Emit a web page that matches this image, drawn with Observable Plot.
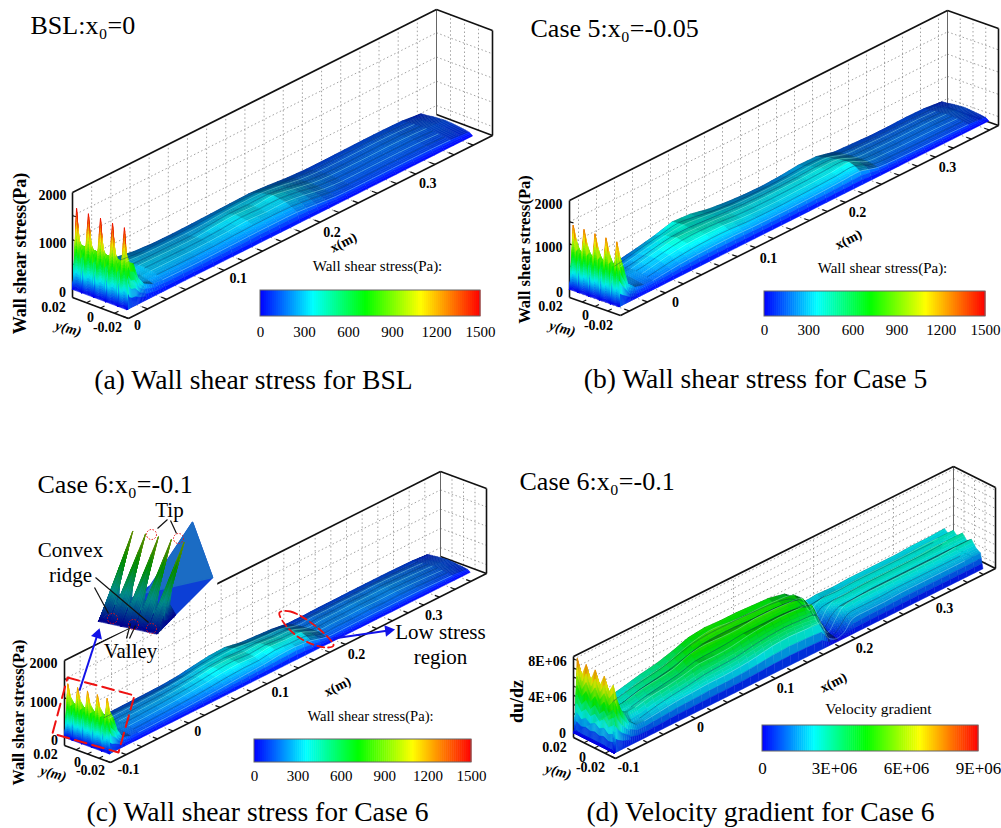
<!DOCTYPE html>
<html><head><meta charset="utf-8">
<script src="https://cdn.jsdelivr.net/npm/d3@7"></script>
<script src="https://cdn.jsdelivr.net/npm/@observablehq/plot@0.6"></script>
<style>html,body{margin:0;padding:0;background:#fff}svg{display:block}</style>
</head><body><div id="fig"></div>
<script>
// spanwise lines (m): edge, five ridges with four valleys between them, edge
const spanY = [0.0195, 0.0171, 0.0129, 0.0086, 0.0043, 0, -0.0043, -0.0086, -0.0129, -0.0171, -0.0195];

// (a) BSL wall shear stress (Pa)
const bslX = [0,.002,.005,.009,.014,.02,.03,.04,.06,.08,.10,.12,.14,.16,.18,.20,.22,.24,.26,.28,.30,.32,.34,.36];
const bslZ = [
[1680,1050,870,800,500,280,290,270,200,170,165,170,180,190,200,170,130,110,110,115,120,120,110,60],
[0,450,820,780,430,290,290,270,230,220,215,220,240,255,260,215,160,130,130,135,140,135,120,70],
[1660,1060,870,790,500,300,280,290,260,250,245,255,285,300,300,250,180,150,145,150,155,150,130,90],
[0,450,820,780,430,290,270,280,270,265,260,290,320,310,320,265,190,155,150,155,160,155,135,100],
[1660,1060,870,790,500,300,280,300,290,280,280,320,345,325,350,280,200,165,160,160,165,160,140,110],
[0,450,820,780,430,280,270,290,285,275,280,300,335,320,325,270,190,155,150,155,155,150,130,100],
[1650,1060,870,780,480,290,270,280,275,270,275,290,315,295,305,250,175,145,145,145,145,140,120,85],
[0,450,800,760,400,250,240,245,240,235,240,255,265,265,255,210,150,125,125,125,125,120,105,70],
[1650,1100,880,825,480,300,190,185,180,175,180,185,190,190,185,150,110,100,100,100,100,95,85,50]];

// (b) Case 5 wall shear stress (Pa)
const case5X = [-.05,-.047,-.043,-.038,-.03,-.02,-.01,0,.02,.04,.06,.08,.10,.12,.14,.16,.18,.2,.22,.24,.26,.28,.3,.32,.34,.36];
const case5Z = [
[1450,1120,800,370,190,130,130,150,220,300,410,380,290,240,210,200,220,260,250,150,130,110,110,120,110,60],
[0,600,770,350,210,170,170,200,280,350,420,370,300,260,240,235,250,280,270,170,140,130,130,130,120,70],
[1440,1110,790,370,220,190,200,240,320,390,430,390,340,300,290,285,295,320,310,185,165,150,150,150,135,90],
[0,600,770,350,230,210,220,250,330,400,410,380,345,320,310,310,320,340,330,195,170,160,160,160,145,100],
[1430,1110,790,370,240,225,240,280,360,430,420,400,365,345,340,345,350,370,360,200,180,170,170,170,155,110],
[0,590,760,340,230,220,240,270,350,410,420,400,360,340,335,340,350,365,370,205,175,165,165,165,150,100],
[1425,1100,790,365,220,205,220,255,330,380,390,385,345,325,320,330,340,355,385,200,170,160,160,155,140,85],
[0,580,730,330,200,180,190,220,280,320,335,330,300,290,290,300,310,325,345,180,150,140,135,130,120,70],
[1420,1100,790,360,200,150,150,170,210,230,240,240,225,220,220,225,235,250,265,150,125,115,110,105,95,50]];

// (c) Case 6 wall shear stress (Pa)
const case6X = [-.1,-.097,-.092,-.087,-.08,-.07,-.06,-.04,-.02,0,.02,.04,.06,.08,.10,.12,.14,.16,.18,.2,.22,.24,.26,.28,.3,.32,.34,.36];
const case6Z = [
[1400,1050,800,450,200,130,120,120,125,130,140,170,230,285,300,220,190,160,100,100,110,110,115,115,115,110,100,60],
[0,550,790,420,210,170,160,160,165,170,185,220,280,320,330,260,240,200,120,125,130,130,135,135,135,125,110,70],
[1395,1040,800,450,230,200,195,200,210,220,240,280,330,355,370,320,290,270,150,170,165,175,170,180,170,155,130,90],
[0,550,790,420,230,210,205,210,225,235,260,300,350,370,350,345,310,290,165,180,180,190,185,195,180,165,140,100],
[1400,1040,800,450,240,220,215,225,240,255,285,330,385,400,370,390,345,325,180,200,200,210,205,210,195,175,150,110],
[0,540,780,420,225,215,210,220,235,255,280,320,370,395,365,395,360,340,190,195,195,205,200,205,190,170,145,100],
[1400,1040,800,440,215,195,190,200,215,235,265,300,345,370,350,405,375,360,195,195,190,200,190,195,180,160,135,85],
[0,530,760,400,190,160,155,165,180,195,215,245,280,300,300,355,335,315,170,170,165,175,165,170,160,140,120,70],
[1400,1040,800,430,190,120,115,120,130,140,155,175,200,220,240,280,290,240,130,125,130,130,130,130,125,110,95,50]];

// (d) Case 6 velocity gradient (1E+06 1/s)
const gradX = [-.1,-.099,-.095,-.09,-.08,-.07,-.06,-.04,-.02,0,.02,.04,.06,.08,.10,.12,.14,.16,.17,.18,.19,.2,.22,.24,.26,.28,.3,.32,.34,.36];
const gradZ = [
[.3,8.2,6.5,4.8,3.0,2.2,2.2,2.6,3.0,3.3,3.8,4.4,4.6,4.5,4.5,4.4,4.3,3.9,3.2,2.0,2.0,2.1,2.0,2.1,2.1,2.1,2.1,2.2,2.2,2.3],
[.2,6.5,5.5,4.2,2.4,1.9,2.0,2.4,2.7,3.0,3.5,4.0,4.2,4.2,4.2,4.1,4.0,3.6,3.0,1.8,1.8,1.9,1.8,1.9,1.9,1.9,1.9,1.9,1.9,1.9],
[.2,8.0,6.3,4.6,3.0,2.5,2.6,3.1,3.4,3.7,4.3,4.8,5.0,4.8,4.7,4.7,4.6,4.3,3.5,1.7,2.2,2.4,2.4,2.5,2.5,2.5,2.5,2.6,2.6,2.6],
[.2,6.5,5.5,4.2,2.6,2.2,2.3,2.8,3.1,3.4,3.9,4.4,4.5,4.5,4.4,4.4,4.3,4.0,3.2,1.4,1.9,2.0,2.0,2.1,2.1,2.1,2.1,2.1,2.2,2.1],
[.2,7.9,6.3,4.6,3.1,2.7,2.9,3.3,3.5,3.8,4.5,4.7,4.6,4.6,4.8,4.8,4.7,4.4,3.0,.8,1.9,2.5,2.6,2.7,2.7,2.7,2.7,2.8,2.8,2.8],
[.2,6.4,5.4,4.1,2.6,2.2,2.4,2.8,3.1,3.4,3.9,4.0,4.1,4.3,4.3,4.3,4.2,3.9,2.4,.5,1.4,2.0,2.1,2.2,2.2,2.2,2.2,2.2,2.2,2.2],
[.2,7.7,6.2,4.5,3.0,2.5,2.6,3.0,3.2,3.5,3.9,3.9,4.0,4.3,4.5,4.6,4.5,4.2,2.0,.3,1.3,2.3,2.5,2.5,2.5,2.5,2.5,2.5,2.6,2.6],
[.1,6.2,5.2,3.9,2.2,1.6,1.7,2.1,2.4,2.6,2.9,3.0,3.1,3.4,3.6,3.7,3.6,3.3,1.1,.2,.8,1.7,1.8,1.8,1.9,1.9,1.9,1.9,1.9,1.9],
[.1,7.2,5.6,4.2,2.4,1.6,1.6,1.8,2.0,2.1,2.2,2.2,2.3,2.5,2.8,2.9,2.8,2.6,.6,.1,.4,1.4,1.5,1.5,1.6,1.6,1.6,1.6,1.6,1.6]];

// inset of (c): magnified leading edge of the tips
const insetX = [0,.004,.01,.02];
const insetZ = [
[1700,800,360,60],[0,110,110,50],[1700,800,360,60],[0,110,110,50],[1700,800,360,60],
[0,110,110,50],[1700,800,360,60],[0,110,110,50],[1700,800,360,60]];

const colorDomain = [0,.24,.48,.73,1];
const colorRange = ["#0000ff","#00ffff","#00ff00","#ffff00","#ff0000"];
const cs = Plot.scale({color:{type:"linear",domain:colorDomain,range:colorRange,interpolate:"rgb"}});

// view of each box on the page (layout only)
const panels = {
 a:{o:[72,297],ex:[364,-183],ey:[56,21],ez:[0,-105],xr:[0,.38],zr:[-185,1980],tmax:1500,inlet:5,
    xl:[0,.1,.2,.3],xoff:[[9,7],[14,8],[12,10],[12,9]],zt:[500,1000,1500],gridX:.02},
 b:{o:[569,297],ex:[378,-190],ey:[51,18],ez:[0,-97],xr:[-.05,.37],zr:[-200,1980],tmax:1500,inlet:4,
    xl:[0,.1,.2,.3],xoff:[[10,10],[13,11],[12,10],[12,10]],zt:[500,1000,1500],gridX:.02},
 c:{o:[64,745],ex:[376,-189],ey:[46,17],ez:[0,-85],xr:[-.1,.38],zr:[-230,1978],tmax:1500,inlet:4,
    xl:[-.1,0,.1,.2,.3],xoff:[[18,7],[9,8],[13,9],[11,10],[10,11]],zt:[500,1000,1500],gridX:.02},
 d:{o:[573,737],ex:[380,-190],ey:[42,21],ez:[0,-81],xr:[-.1,.375],zr:[-.6,8.3],tmax:9,inlet:4,
    xl:[-.1,0,.1,.2,.3],xoff:[[13,9],[5,9],[10,10],[9,10],[9,10]],zt:[1,2,3,4,5,6,7,8],gridX:.1}
};
const inset = {o:[98,620],ex:[55,-55],ey:[60,13],ez:[29.9,-90.1],xr:[0,.06],zr:[0,1700],tmax:2300,inlet:3};

function P(p,x,y,z){
  const a=(x-p.xr[0])/(p.xr[1]-p.xr[0]), b=(.02-y)/.04, c=(z-p.zr[0])/(p.zr[1]-p.zr[0]);
  return [p.o[0]+a*p.ex[0]+b*p.ey[0]+c*p.ez[0], p.o[1]+a*p.ex[1]+b*p.ey[1]+c*p.ez[1]];
}
const lerp=(a,b,s)=>a+(b-a)*s;

function shadeColor(t,k){
  const c=d3.rgb(cs.apply(Math.min(1,Math.max(0,t))));
  return d3.rgb(c.r*k,c.g*k,c.b*k).formatHex();
}

function surface(p,name,xs0,table0,opt={}){
  const base=opt.base??.8, gain=opt.gain??.4, gainX=opt.gainX??1.2, lo=opt.lo??.5, hi=opt.hi??1, flat=opt.flat??.93;
  // the leading edge stands as a wall rising from the floor of the surface
  const xs=[xs0[0]-.0006,...xs0];
  const table=table0.map(r=>[0,...r]);
  const inletCells=p.inlet+1;
  const zero=xs.map(()=>0);
  const Z=[zero,...table,zero];
  const rows=[]; let id=0;
  const pxZ=Math.hypot(p.ez[0],p.ez[1])/(p.zr[1]-p.zr[0]);
  const pxY=Math.hypot(p.ey[0],p.ey[1])/.04;
  const pxX=Math.hypot(p.ex[0],p.ex[1])/(p.xr[1]-p.xr[0]);
  for(let i=xs.length-2;i>=0;i--){
    const nx=i===0?24:(i===1?8:((xs[i+1]-xs[i])>.012?2:4));
    for(let u=nx-1;u>=0;u--){
      for(let j=0;j<spanY.length-1;j++){
        const ny=(i<inletCells)?5:3;
        for(let v=0;v<ny;v++){
          const s0=u/nx,s1=(u+1)/nx,r0=v/ny,r1=(v+1)/ny;
          const zAt=(s,r)=>lerp(lerp(Z[j][i],Z[j][i+1],s),lerp(Z[j+1][i],Z[j+1][i+1],s),r);
          const xAt=s=>lerp(xs[i],xs[i+1],s), yAt=r=>lerp(spanY[j],spanY[j+1],r);
          const c=[[s0,r0],[s1,r0],[s1,r1],[s0,r1]];
          const zs=c.map(q=>zAt(q[0],q[1]));
          const zm=d3.mean(zs);
          // height growing towards +y or +x faces the viewer and is bright, the far side is dark
          const dz=(zs[0]+zs[1]-zs[2]-zs[3])/2*pxZ;
          const dy=Math.abs(spanY[j]-spanY[j+1])/ny*pxY;
          const dzx=(zs[1]+zs[2]-zs[0]-zs[3])/2*pxZ;
          const dx=(xs[i+1]-xs[i])/nx*pxX;
          let k=i<inletCells?flat:Math.max(lo,Math.min(hi,base+gain*dz/dy+gainX*dzx/dx));
          const col=shadeColor(zm/p.tmax,k);
          const key=name+(id++);
          c.forEach((q,n)=>{const pt=P(p,xAt(q[0]),yAt(q[1]),zs[n]);rows.push({id:key,px:pt[0],py:pt[1],col});});
        }
      }
    }
  }
  return rows;
}
function surfaceMark(rows){
  return Plot.line(rows,{x:"px",y:"py",z:"id",curve:"linear-closed",
    fill:{value:"col",scale:null},stroke:{value:"col",scale:null},strokeWidth:.5});
}
// streaks along the ridges (light) and valleys (dark)
function streaks(p,name,xs,table,start){
  const rows=[];
  table.forEach((row,j)=>{
    for(let i=start;i<xs.length-1;i++){
      const pt=P(p,xs[i],spanY[j+1],row[i]);
      rows.push({id:name+j,j,px:pt[0],py:pt[1]});
    }
  });
  return [
   Plot.line(rows.filter(d=>d.j%2===0&&d.j>0),{x:"px",y:"py",z:"id",curve:"catmull-rom",stroke:"#a8fff0",strokeOpacity:.4,strokeWidth:.9}),
   Plot.line(rows.filter(d=>d.j%2===1),{x:"px",y:"py",z:"id",curve:"catmull-rom",stroke:"#04305e",strokeOpacity:.45,strokeWidth:.9})
  ];
}
function seg(p,a,b){const A=P(p,...a),B=P(p,...b);return {x1:A[0],y1:A[1],x2:B[0],y2:B[1]};}

function gridLinks(p){
  const [x0,x1]=p.xr,[z0,z1]=p.zr,out=[];
  for(let x=Math.ceil(x0/p.gridX-1e-6)*p.gridX;x<x1-1e-6;x+=p.gridX){
    out.push(seg(p,[x,.02,z0],[x,.02,z1]));
    out.push(seg(p,[x,.02,z0],[x,-.02,z0]));
  }
  p.zt.forEach(z=>{
    out.push(seg(p,[x0,.02,z],[x1,.02,z]));
    out.push(seg(p,[x1,.02,z],[x1,-.02,z]));
  });
  [.01,0,-.01].forEach(y=>{
    out.push(seg(p,[x1,y,z0],[x1,y,z1]));
  });
  out.push(seg(p,[x0,.02,0],[x1,.02,0]));
  out.push(seg(p,[x1,.02,0],[x1,-.02,0]));
  return out;
}
function boxLinks(p){
  const [x0,x1]=p.xr,[z0,z1]=p.zr;
  return [
    seg(p,[x0,.02,z1],[x1,.02,z1]),
    seg(p,[x1,.02,z1],[x1,-.02,z1]),
    seg(p,[x1,-.02,z1],[x1,-.02,z0]),
    seg(p,[x1,-.02,z0],[x1,.02,z0]),
    seg(p,[x0,.02,z0],[x0,.02,z1]),
    seg(p,[x0,.02,z0],[x0,-.02,z0]),
    seg(p,[x0,-.02,z0],[x1,-.02,z0])
  ];
}
function tickLinks(p){
  const [x0,x1]=p.xr,[z0]=p.zr,out=[];
  const dx=[p.ey[0]*.1,p.ey[1]*.1];
  for(let x=Math.ceil(x0/.02-1e-6)*.02;x<x1;x+=.02){
    const A=P(p,x,-.02,z0);
    out.push({x1:A[0],y1:A[1],x2:A[0]-dx[0],y2:A[1]-dx[1]});
  }
  [.01,0,-.01].forEach(y=>{const A=P(p,x0,y,z0);out.push({x1:A[0],y1:A[1],x2:A[0]+4,y2:A[1]-2});});
  p.zt.forEach(z=>{const A=P(p,x0,.02,z);out.push({x1:A[0],y1:A[1],x2:A[0]+4,y2:A[1]+1});});
  return out;
}
const serif="Liberation Serif";
function T(rows,o){
  return Plot.text(rows,{x:d=>d[1],y:d=>d[2],text:d=>d[0],rotate:d=>d[3]||0,fontFamily:serif,lineAnchor:"middle",fill:"black",...o});
}
const boldTick={fontWeight:"bold",fontSize:14};

const bars=[
 {name:"a",x0:260,x1:480,y0:290,y1:316,labY:332,title:"Wall shear stress(Pa):",tx:377,ty:266,ticks:["0","300","600","900","1200","1500"],fs:15},
 {name:"b",x0:764,x1:985,y0:291,y1:316,labY:330,title:"Wall shear stress(Pa):",tx:882,ty:268,ticks:["0","300","600","900","1200","1500"],fs:15},
 {name:"c",x0:254,x1:471,y0:739,y1:762,labY:776,title:"Wall shear stress(Pa):",tx:370,ty:716,ticks:["0","300","600","900","1200","1500"],fs:15},
 {name:"d",x0:762,x1:978,y0:725,y1:751,labY:768,title:"Velocity gradient",tx:878,ty:709,ticks:["0","3E+06","6E+06","9E+06"],fs:17}
];
const barCells=bars.flatMap(b=>d3.range(110).map(i=>({
  x1:lerp(b.x0,b.x1,i/110),x2:lerp(b.x0,b.x1,(i+1)/110)+.5,y1:b.y0,y2:b.y1,t:(i+.5)/110})));

const marks=[];
const allLinks={grid:[],box:[],tick:[],edge:[]};
for(const k of "abcd"){
  const p=panels[k];
  allLinks.grid.push(...gridLinks(p));
  allLinks.box.push(...boxLinks(p));
  allLinks.tick.push(...tickLinks(p));
  allLinks.edge.push(seg(p,[p.xr[1],.02,p.zr[0]],[p.xr[1],.02,p.zr[1]]));
}
marks.push(Plot.link(allLinks.grid,{x1:"x1",y1:"y1",x2:"x2",y2:"y2",stroke:"#8a8a8a",strokeWidth:.8,strokeDasharray:"1.5,2.5"}));
marks.push(Plot.link(allLinks.edge,{x1:"x1",y1:"y1",x2:"x2",y2:"y2",stroke:"#666",strokeWidth:1}));
marks.push(Plot.link(allLinks.box,{x1:"x1",y1:"y1",x2:"x2",y2:"y2",stroke:"#111",strokeWidth:1.6}));
marks.push(Plot.link(allLinks.tick,{x1:"x1",y1:"y1",x2:"x2",y2:"y2",stroke:"#111",strokeWidth:1.2}));

// white cut-out behind the inset of (c)
const cutout=[[83,490],[216,490],[216,586],[83,648]].map(q=>({id:"cut",px:q[0],py:q[1]}));
marks.push(Plot.line(cutout,{x:"px",y:"py",z:"id",curve:"linear-closed",fill:"white",stroke:"white"}));

marks.push(surfaceMark(surface(panels.a,"a",bslX,bslZ)),...streaks(panels.a,"sa",bslX,bslZ,7));
marks.push(surfaceMark(surface(panels.b,"b",case5X,case5Z)),...streaks(panels.b,"sb",case5X,case5Z,6));
marks.push(surfaceMark(surface(panels.c,"c",case6X,case6Z)),...streaks(panels.c,"sc",case6X,case6Z,6));
marks.push(surfaceMark(surface(panels.d,"d",gradX,gradZ,{flat:.88,base:.7,hi:.85,lo:.45})),...streaks(panels.d,"sd",gradX,gradZ,6));

// inset
const insetBack=[[[100,620],[157,632],[212,577],[192,522],[150,585]],[[146,592],[212,577],[192,522]]];
insetBack.forEach((poly,i)=>{
  marks.push(Plot.line(poly.map(q=>({id:"ib"+i,px:q[0],py:q[1]})),{x:"px",y:"py",z:"id",curve:"linear-closed",fill:i?"#1b6cc4":"#0c3fd6",stroke:i?"#1b6cc4":"#0c3fd6"}));
});
marks.push(surfaceMark(surface(inset,"i",insetX,insetZ,{flat:.55})));

// colour bars
marks.push(Plot.rect(barCells,{x1:"x1",x2:"x2",y1:"y1",y2:"y2",fill:"t"}));
marks.push(Plot.rect(bars,{x1:"x0",x2:"x1",y1:"y0",y2:"y1",stroke:"#666",strokeWidth:1,fill:"none"}));
marks.push(T(bars.map((b,i)=>[b.title,b.tx,b.ty,0,[15,15,14.6,15.5][i]]),{fontSize:d=>d[4]}));
marks.push(T(bars.flatMap(b=>b.ticks.map((s,i)=>[s,lerp(b.x0,b.x1,i/(b.ticks.length-1)),b.labY,0,b.fs])),{fontSize:d=>d[4]}));

// x tick labels
const fmt=v=>String(+v.toFixed(2));
const xLabs=[];
for(const k of "abcd"){const p=panels[k];p.xl.forEach((v,i)=>{const A=P(p,v,-.02,p.zr[0]);xLabs.push([fmt(v),A[0]+p.xoff[i][0],A[1]+p.xoff[i][1]]);});}
marks.push(T(xLabs,boldTick));
// other axis labels
marks.push(T([
 ["2000",52,195],["1000",52,243],["0",62,292],["0.02",53,307],["0",90,317],["-0.02",107,327],
 ["2000",548,204],["1000",548,247],["0",559,292],["0.02",550,306],["0",585,315],["-0.02",598,325],
 ["2000",43,663],["1000",43,702],["0",54,740],["0.02",45,754],["0",77,762],["-0.02",90,770],
 ["8E+06",547,661],["4E+06",547,697],["0",562,733],["0.02",554,747],["0",582,757],["-0.02",590,767]
],boldTick));
marks.push(T([["x(m)",343,242,-27],["x(m)",848,239,-27],["x(m)",337,686,-27],["x(m)",833,682,-27]],boldTick));
marks.push(T([["y(m)",68,328,15],["y(m)",562,328,15],["y(m)",53,773,15],["y(m)",558,771,15]],{...boldTick,fontStyle:"italic"}));
marks.push(T([["Wall shear stress(Pa)",20,253,-90,18],["Wall shear stress(Pa)",524,249,-90,16.6],["Wall shear stress(Pa)",18,712,-90,16.3]],{fontWeight:"bold",fontSize:d=>d[4]}));
marks.push(T([["du/dz",517,701,-90]],{fontWeight:"bold",fontSize:18}));

// panel titles and captions
marks.push(T([["BSL:x₀=0",30,25],["Case 5:x₀=-0.05",530,28],["Case 6:x₀=-0.1",37,484],["Case 6:x₀=-0.1",519,481]],{fontSize:26,textAnchor:"start"}));
marks.push(T([["(a) Wall shear stress for BSL",253,380],["(b) Wall shear stress for Case 5",755,379],["(c) Wall shear stress for Case 6",257,812],["(d) Velocity gradient for Case 6",760,812]],{fontSize:27.6}));

// annotations of (c)
marks.push(T([["Tip",169,510],["Convex",70,550],["ridge",70,575],["Valley",130,651],["Low stress",440,632],["region",440,657]],{fontSize:21}));
marks.push(Plot.link([
 {x1:167,y1:519,x2:157,y2:528},{x1:170,y1:520,x2:176,y2:533},
 {x1:95,y1:577,x2:148,y2:622},{x1:94,y1:587,x2:108,y2:613},
 {x1:126,y1:638,x2:130,y2:623},{x1:129,y1:638,x2:135,y2:625}
],{x1:"x1",y1:"y1",x2:"x2",y2:"y2",stroke:"#111",strokeWidth:1.2}));
const redBox=[[67,677],[134,695],[118,752],[52,733]].map(q=>({id:"rb",px:q[0],py:q[1]}));
marks.push(Plot.line(redBox,{x:"px",y:"py",z:"id",curve:"linear-closed",stroke:"#ee1111",strokeWidth:2,strokeDasharray:"12,6"}));
const redLoop=[[279,612],[290,611],[318,628],[333,645],[325,647],[300,638],[283,622]].map(q=>({id:"rl",px:q[0],py:q[1]}));
marks.push(Plot.line(redLoop,{x:"px",y:"py",z:"id",curve:"catmull-rom-closed",stroke:"#ee1111",strokeWidth:1.8,strokeDasharray:"7,4"}));
marks.push(Plot.dot([[151,534],[178,538],[112,618],[133,624],[151,628]],{x:d=>d[0],y:d=>d[1],r:5,stroke:"#ee1111",strokeWidth:1,strokeDasharray:"1.5,1.5",fill:"none"}));
marks.push(Plot.link([{x1:79,y1:690,x2:97,y2:634},{x1:333,y1:638,x2:388,y2:630}],{x1:"x1",y1:"y1",x2:"x2",y2:"y2",stroke:"#1212e8",strokeWidth:2}));
marks.push(Plot.dot([{x:97,y:634,r:18},{x:388,y:630,r:82}],{x:"x",y:"y",rotate:"r",symbol:"triangle2",r:5.5,fill:"#1212e8",stroke:"none"}));

const chart=Plot.plot({width:1001,height:828,margin:0,
  x:{domain:[0,1001],range:[0,1001],axis:null},
  y:{domain:[0,828],range:[0,828],axis:null},
  color:{type:"linear",domain:colorDomain,range:colorRange,interpolate:"rgb"},
  style:{background:"white",color:"black"},
  marks});
chart.querySelectorAll('g[aria-label="line"]').forEach(g=>{g.style.filter="blur(.45px)";});
document.getElementById("fig").append(chart);
</script></body></html>
